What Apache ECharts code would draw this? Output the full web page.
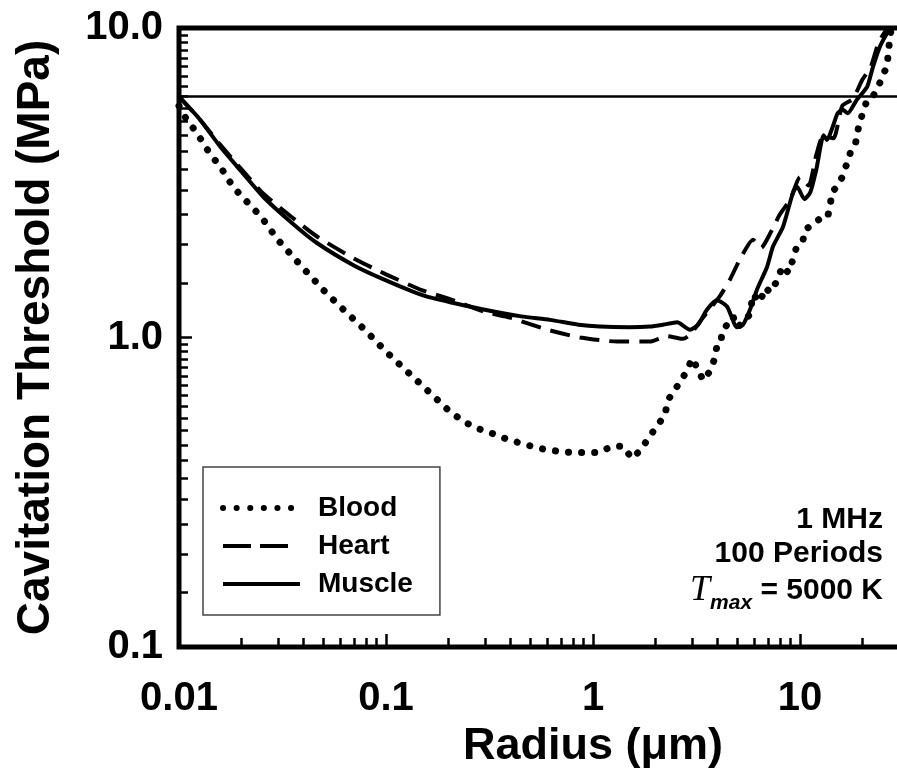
<!DOCTYPE html>
<html>
<head>
<meta charset="utf-8">
<script src="https://cdn.jsdelivr.net/npm/echarts@6/dist/echarts.min.js"></script>
<style>
    html, body { margin: 0; padding: 0; background: #fff; }
    #chart { width: 897px; height: 783px; }
</style>
</head>
<body>
<div id="chart"></div>
<script>
    const FONT = '"Liberation Sans", Arial, sans-serif';

    // radius (um) / cavitation threshold (MPa)
    const bloodRadius = [0.01, 0.0109, 0.0122, 0.0134, 0.0149, 0.0167, 0.0182, 0.0204, 0.025, 0.03,
        0.0384, 0.05, 0.06, 0.08, 0.1, 0.146, 0.204, 0.241, 0.278, 0.325, 0.376, 0.434, 0.507, 0.585,
        0.677, 0.792, 0.915, 1.06, 1.24, 1.40, 1.54, 1.73, 1.84, 2.04, 2.23, 2.30, 2.49, 2.63, 2.85,
        3.01, 3.22, 3.40, 3.63, 3.88, 3.97, 4.15, 4.2, 4.75, 4.96, 5.35, 5.73, 5.93, 6.4, 6.8, 7.16,
        7.83, 8.19, 8.8, 9.25, 9.6, 10.3, 10.6, 11.4, 12.8, 13.6, 14.0, 14.3, 15.1, 16.0, 16.9, 17.5,
        18.5, 19.2, 20.1, 21.1, 22.5, 24.3, 25.5, 26.3, 26.8, 27.3, 28.5];
    const bloodThreshold = [5.6, 5.05, 4.59, 4.13, 3.75, 3.38, 3.07, 2.83, 2.45, 2.07,
        1.72, 1.42, 1.26, 1.05, 0.90, 0.71, 0.575, 0.532, 0.508, 0.49, 0.472, 0.458, 0.445, 0.435,
        0.429, 0.425, 0.425, 0.425, 0.445, 0.445, 0.407, 0.438, 0.472, 0.516, 0.565, 0.627, 0.68, 0.716, 0.783,
        0.856, 0.788, 0.727, 0.77, 0.856, 0.942, 0.964, 1.045, 1.17, 1.08, 1.12, 1.19, 1.38, 1.30, 1.45, 1.40,
        1.54, 1.70, 1.62, 1.79, 1.95, 2.04, 2.23, 2.31, 2.45, 2.45, 2.69, 2.96, 3.07, 3.3, 3.67, 3.95,
        4.2, 4.8, 5.32, 5.86, 6.0, 6.65, 7.2, 7.48, 8.5, 9.6, 10.5];

    const heartRadius = [0.01, 0.0125, 0.0158, 0.02, 0.0255, 0.035, 0.0464, 0.07, 0.1, 0.15, 0.204,
        0.3, 0.397, 0.6, 0.866, 1.31, 1.88, 2.28, 2.5, 2.72, 2.94, 3.4, 4.1, 4.59, 5.13, 5.93,
        6.5, 7.0, 8.0, 9.0, 10.0, 11.0, 12.0, 13.0, 14.5, 16.0, 18.0, 20.0, 22.0, 24.0, 27.0];
    const heartThreshold = [6.0, 5.1, 4.2, 3.5, 2.92, 2.45, 2.12, 1.80, 1.60, 1.42, 1.33,
        1.21, 1.16, 1.06, 1.00, 0.97, 0.97, 1.01, 1.0, 0.99, 1.02, 1.16, 1.36, 1.54, 1.79, 2.07,
        1.95, 2.1, 2.5, 2.8, 3.3, 3.1, 3.9, 4.5, 4.4, 5.6, 5.9, 6.8, 7.5, 9.0, 10.2];

    const muscleRadius = [0.01, 0.0125, 0.0158, 0.02, 0.0255, 0.035, 0.0464, 0.07, 0.1, 0.15, 0.204,
        0.3, 0.45, 0.62, 0.85, 1.08, 1.5, 1.88, 2.18, 2.55, 2.94, 3.22, 3.55, 3.97, 4.44, 4.96, 5.3,
        5.73, 6.2, 6.93, 7.41, 8.28, 9.25, 9.68, 10.5, 11.2, 12.0, 13.0, 13.5, 14.4, 15.2, 16.1,
        17.0, 18.8, 21.1, 22.5, 24.3, 26.3, 28.0];
    const muscleThreshold = [6.0, 5.1, 4.14, 3.44, 2.85, 2.35, 2.02, 1.71, 1.53, 1.37, 1.30,
        1.23, 1.17, 1.14, 1.10, 1.085, 1.08, 1.085, 1.10, 1.12, 1.06, 1.10, 1.23, 1.32, 1.26, 1.08, 1.10,
        1.23, 1.43, 1.69, 1.97, 2.28, 2.94, 3.07, 2.8, 2.94, 3.5, 4.5, 4.35, 4.8, 5.3, 5.44,
        5.3, 5.86, 6.45, 7.48, 8.69, 9.6, 10.2];

    const thresholdLine = 6;

    const xMajorTicks = [0.01, 0.1, 1, 10, 100];
    const xMinorTicks = [0.02, 0.03, 0.04, 0.05, 0.06, 0.07, 0.08, 0.09,
        0.2, 0.3, 0.4, 0.5, 0.6, 0.7, 0.8, 0.9,
        2, 3, 4, 5, 6, 7, 8, 9,
        20, 30, 40, 50, 60, 70, 80, 90];
    const yMajorTicks = [0.1, 1, 10];
    const yMinorTicks = [0.15, 0.2, 0.25, 0.3, 0.35, 0.4, 0.45, 0.5, 0.55, 0.6, 0.65, 0.7, 0.75,
        0.8, 0.85, 0.9, 0.95,
        1.5, 2, 2.5, 3, 3.5, 4, 4.5, 5, 5.5, 6, 6.5, 7, 7.5, 8, 8.5, 9, 9.5];

    const dotted = { color: '#000', width: 7, type: [0.1, 13], cap: 'round' };
    const dashed = { color: '#000', width: 4, type: [20, 10] };
    const solid = { color: '#000', width: 4, type: 'solid' };

    function pairs(xs, ys) {
        return xs.map((x, i) => [x, ys[i]]);
    }

    function tickAxis(extra) {
        return Object.assign({
            type: 'log',
            logBase: 10,
            axisLine: { show: false },
            splitLine: { show: false },
            axisLabel: { show: false },
            axisTick: { show: true, inside: true }
        }, extra);
    }

    let chart = echarts.init(document.getElementById('chart'), null, { renderer: 'canvas' });

    let option = {
        animation: false,
        backgroundColor: '#fff',
        grid: {
            left: 179,
            top: 28,
            right: -110,
            bottom: 136,
            outerBoundsMode: 'none',
            containLabel: false,
            show: true,
            borderColor: '#000',
            borderWidth: 5,
            backgroundColor: 'transparent'
        },
        xAxis: [
            {
                type: 'log',
                logBase: 10,
                min: 0.01,
                max: 100,
                name: 'Radius (μm)',
                nameLocation: 'middle',
                nameGap: 74,
                nameTextStyle: { fontFamily: FONT, fontWeight: 'bold', fontSize: 45, color: '#000' },
                axisLine: { show: false },
                splitLine: { show: false },
                axisTick: {
                    inside: true, length: 13, customValues: xMajorTicks,
                    lineStyle: { color: '#000', width: 2.5 }
                },
                axisLabel: {
                    margin: 32,
                    fontFamily: FONT, fontWeight: 'bold', fontSize: 40, color: '#000',
                    customValues: xMajorTicks,
                    formatter: v => String(parseFloat(v.toPrecision(6)))
                }
            },
            tickAxis({
                min: 0.01, max: 100, position: 'bottom',
                axisTick: {
                    inside: true, length: 9, customValues: xMinorTicks,
                    lineStyle: { color: '#000', width: 2.5 }
                }
            })
        ],
        yAxis: [
            {
                type: 'log',
                logBase: 10,
                min: 0.1,
                max: 10,
                name: 'Cavitation Threshold (MPa)',
                nameLocation: 'middle',
                nameGap: 120,
                nameTextStyle: { fontFamily: FONT, fontWeight: 'bold', fontSize: 46, color: '#000' },
                axisLine: { show: false },
                splitLine: { show: false },
                axisTick: {
                    inside: true, length: 13, customValues: yMajorTicks,
                    lineStyle: { color: '#000', width: 2.5 }
                },
                axisLabel: {
                    margin: 16,
                    fontFamily: FONT, fontWeight: 'bold', fontSize: 40, color: '#000',
                    customValues: yMajorTicks,
                    formatter: v => v.toFixed(1)
                }
            },
            tickAxis({
                min: 0.1, max: 10, position: 'left',
                axisTick: {
                    inside: true, length: 9, customValues: yMinorTicks,
                    lineStyle: { color: '#000', width: 2.5 }
                }
            })
        ],
        legend: {
            orient: 'vertical',
            left: 203,
            top: 467,
            padding: [27, 27, 17, 17],
            itemGap: 10,
            itemWidth: 77,
            itemHeight: 14,
            borderColor: '#444',
            borderWidth: 1.5,
            backgroundColor: '#fff',
            itemStyle: { opacity: 0 },
            textStyle: {
                fontFamily: FONT, fontWeight: 'bold', fontSize: 28, color: '#000',
                padding: [0, 0, 0, 13]
            },
            data: [
                { name: 'Blood', lineStyle: { width: 6, type: [0.1, 13.5], cap: 'round' } },
                { name: 'Heart', lineStyle: { width: 4, type: [28, 9, 28, 100] } },
                { name: 'Muscle', lineStyle: { width: 4, type: 'solid' } }
            ]
        },
        graphic: [
            {
                type: 'text', x: 883, y: 520,
                style: {
                    text: '1 MHz', fill: '#000', align: 'right', verticalAlign: 'middle',
                    font: 'bold 30px ' + FONT
                }
            },
            {
                type: 'text', x: 883, y: 554,
                style: {
                    text: '100 Periods', fill: '#000', align: 'right', verticalAlign: 'middle',
                    font: 'bold 30px ' + FONT
                }
            },
            {
                type: 'text', x: 883, y: 591,
                style: {
                    text: '{t|T}{s|max}{b| = 5000 K}',
                    align: 'right', verticalAlign: 'middle',
                    rich: {
                        t: { fontFamily: '"Liberation Serif", serif', fontStyle: 'italic', fontSize: 36,
                             fill: '#000', lineHeight: 46, verticalAlign: 'middle' },
                        s: { fontFamily: FONT, fontStyle: 'italic', fontWeight: 'bold', fontSize: 21,
                             fill: '#000', lineHeight: 46, verticalAlign: 'bottom' },
                        b: { fontFamily: FONT, fontWeight: 'bold', fontSize: 30,
                             fill: '#000', lineHeight: 46, verticalAlign: 'middle' }
                    }
                }
            }
        ],
        series: [
            {
                name: 'Blood',
                type: 'line',
                data: pairs(bloodRadius, bloodThreshold),
                symbol: 'none',
                clip: true,
                lineStyle: dotted,
                itemStyle: { color: '#000' },
                emphasis: { disabled: true }
            },
            {
                name: 'Heart',
                type: 'line',
                data: pairs(heartRadius, heartThreshold),
                symbol: 'none',
                smooth: 0.2,
                clip: true,
                lineStyle: dashed,
                itemStyle: { color: '#000' },
                emphasis: { disabled: true }
            },
            {
                name: 'Muscle',
                type: 'line',
                data: pairs(muscleRadius, muscleThreshold),
                symbol: 'none',
                smooth: 0.2,
                clip: true,
                lineStyle: solid,
                itemStyle: { color: '#000' },
                emphasis: { disabled: true },
                markLine: {
                    silent: true,
                    symbol: 'none',
                    label: { show: false },
                    lineStyle: { color: '#000', width: 2.5, type: 'solid' },
                    data: [{ yAxis: thresholdLine }]
                }
            }
        ]
    };

    chart.setOption(option);
</script>
</body>
</html>
